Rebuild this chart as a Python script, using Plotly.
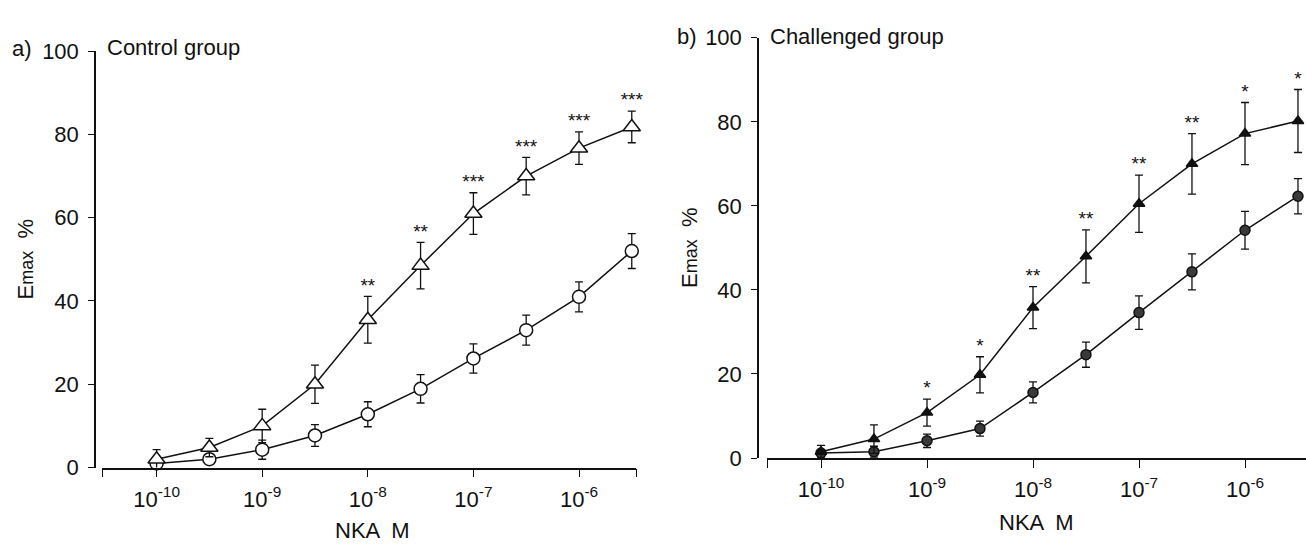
import numpy as np
import plotly.graph_objects as go

# ---------------- data ----------------
conc = [1e-10, 3.16e-10, 1e-9, 3.16e-9, 1e-8, 3.16e-8, 1e-7, 3.16e-7, 1e-6, 3.16e-6]

ctrl_tri = [2.0, 4.8, 10.0, 20.0, 35.5, 48.5, 61.0, 70.0, 76.7, 81.8]
ctrl_tri_sem = [2.3, 2.2, 4.0, 4.6, 5.6, 5.6, 5.0, 4.5, 3.9, 3.8]
ctrl_circ = [1.0, 2.0, 4.3, 7.7, 12.8, 18.9, 26.2, 33.0, 41.0, 52.0]
ctrl_circ_sem = [1.0, 1.2, 2.3, 2.6, 3.0, 3.4, 3.5, 3.6, 3.6, 4.2]
ctrl_stars = ["", "", "", "", "**", "**", "***", "***", "***", "***"]

chal_tri = [1.5, 4.5, 10.8, 19.8, 35.8, 48.0, 60.5, 70.0, 77.2, 80.2]
chal_tri_sem = [1.5, 3.4, 3.2, 4.3, 5.0, 6.3, 6.8, 7.2, 7.4, 7.5]
chal_circ = [1.2, 1.5, 4.1, 7.0, 15.6, 24.6, 34.6, 44.3, 54.2, 62.3]
chal_circ_sem = [0.8, 1.3, 1.6, 1.8, 2.5, 3.0, 4.0, 4.3, 4.5, 4.2]
chal_stars = ["", "", "*", "*", "**", "**", "**", "**", "*", "*"]

decades = [1e-10, 1e-9, 1e-8, 1e-7, 1e-6]
decade_labels = ["10<sup>-10</sup>", "10<sup>-9</sup>", "10<sup>-8</sup>",
                 "10<sup>-7</sup>", "10<sup>-6</sup>"]
y_ticks = [0, 20, 40, 60, 80, 100]

# ---------------- style ----------------
W, H = 1306, 556
INK = "#111111"
FONT = "Liberation Sans, Arial, sans-serif"


def px(x):
    return x / W


def py(y):
    return 1 - y / H


fig = go.Figure()


def add_series(xa, ya, y, sem, symbol, size, fill, lw=1.5):
    fig.add_trace(go.Scatter(
        x=conc, y=y, mode="lines+markers", xaxis=xa, yaxis=ya,
        line=dict(color=INK, width=lw),
        marker=dict(symbol=symbol, size=size, color=fill,
                    line=dict(color=INK, width=1.5)),
        error_y=dict(type="data", array=sem, visible=True, color=INK,
                     thickness=1.3, width=4),
        cliponaxis=False, showlegend=False, hoverinfo="x+y"))


def add_stars(xa, ya, y, sem, stars):
    keep = [i for i, s in enumerate(stars) if s]
    fig.add_trace(go.Scatter(
        x=[conc[i] for i in keep], y=[y[i] + sem[i] for i in keep],
        mode="text", xaxis=xa, yaxis=ya, text=[stars[i] for i in keep],
        textposition="top center",
        textfont=dict(family="Liberation Sans, Arial", size=19, color=INK),
        cliponaxis=False, showlegend=False, hoverinfo="skip"))


# panel a
add_series("x", "y", ctrl_circ, ctrl_circ_sem, "circle", 13, "white")
add_series("x", "y", ctrl_tri, ctrl_tri_sem, "triangle-up", 15, "white")
add_stars("x", "y", ctrl_tri, ctrl_tri_sem, ctrl_stars)

# panel b
add_series("x2", "y2", chal_circ, chal_circ_sem, "circle", 10, "#3a3a3a")
add_series("x2", "y2", chal_tri, chal_tri_sem, "triangle-up", 10, INK)
add_stars("x2", "y2", chal_tri, chal_tri_sem, chal_stars)

# ---------------- axes ----------------
# left panel geometry (pixels): y axis at 95, x axis 102..636, 10^-10 at 156.6, decade 105.6
la_dec, la_0 = 105.6, 156.6
xl0, xl1 = -10 - (la_0 - 102) / la_dec, -10 + (636 - la_0) / la_dec
# right panel: y axis at 758, x axis 767..1306, 10^-10 at 821, decade 106
ra_dec, ra_0 = 106.0, 821.0
xr0, xr1 = -10 - (ra_0 - 767) / ra_dec, -10 + (W - ra_0) / ra_dec

tickfont = dict(family=FONT, size=22, color=INK)

common_x = dict(type="log", showgrid=False, zeroline=False, showline=True,
                linecolor=INK, linewidth=1.5, ticks="outside", ticklen=8,
                tickwidth=1.3, tickcolor=INK, tickfont=tickfont,
                ticklabelstandoff=3, tickvals=decades, ticktext=decade_labels)
common_y = dict(range=[0, 100], tickvals=y_ticks, showgrid=False,
                zeroline=False, showline=True, linecolor=INK, linewidth=1.5,
                ticks="outside", ticklen=6, tickwidth=1.3, tickcolor=INK,
                tickfont=tickfont, anchor="free", ticklabelstandoff=5)

fig.update_layout(
    width=W, height=H, margin=dict(l=0, r=0, t=0, b=0),
    paper_bgcolor="white", plot_bgcolor="white",
    xaxis=dict(common_x, domain=[px(102), px(636)], range=[xl0, xl1],
               minor=dict(tickmode="array", tickvals=[10 ** xl0, 10 ** xl1],
                          ticks="outside", ticklen=8, tickwidth=1.3,
                          tickcolor=INK, showgrid=False),
               anchor="y"),
    yaxis=dict(common_y, domain=[py(477), py(41)], position=px(95)),
    xaxis2=dict(common_x, domain=[px(767), 1.0], range=[xr0, xr1],
                minor=dict(tickmode="array", tickvals=[10 ** xr0],
                           ticks="outside", ticklen=8, tickwidth=1.3,
                           tickcolor=INK, showgrid=False),
                anchor="y2"),
    yaxis2=dict(common_y, domain=[py(467), py(27)], position=px(758)),
)

ann_font = dict(family=FONT, size=22, color=INK)
ytitle = "E<span style='font-size:18px'>max</span>  %"
annotations = [
    dict(text="a)", x=px(22), y=py(38)),
    dict(text="Control group", x=px(105), y=py(37), xanchor="left"),
    dict(text="b)", x=px(687), y=py(26)),
    dict(text="Challenged group", x=px(768), y=py(26), xanchor="left"),
    dict(text=ytitle, x=px(25), y=py(258), textangle=-90),
    dict(text=ytitle, x=px(690), y=py(247), textangle=-90),
    dict(text="NKA  M", x=px(372), y=py(543)),
    dict(text="NKA  M", x=px(1036), y=py(535)),
]
for a in annotations:
    a.setdefault("xanchor", "center")
    fig.add_annotation(xref="paper", yref="paper", showarrow=False,
                       yanchor="middle", font=ann_font, **a)

fig.write_html("out.html")
